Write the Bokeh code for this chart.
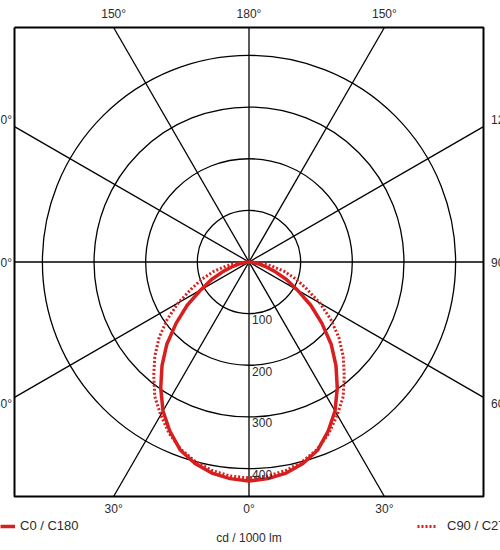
import numpy as np
from bokeh.plotting import figure
from bokeh.models import Range1d, Legend, LegendItem
from bokeh.core.properties import value
from bokeh.embed import file_html
from bokeh.resources import INLINE

# ---------------- data ----------------
gamma = [0, 5, 10, 15, 20, 25, 30, 35, 40, 45, 50, 55, 60, 65, 70, 75, 80, 85, 90]
c0_c180 = [424, 421, 415, 404, 388, 362, 333, 298, 262, 225, 184, 146, 108, 80, 53, 32, 16, 6, 0]
c90_c270 = [418, 416, 410, 400, 386, 366, 342, 318, 287, 258, 227, 193, 158, 123, 97, 71, 45, 22, 0]
ring_values = [100, 200, 300, 400]
ring_labels = ["100", "200", "300", "400"]
ray_angles = [0, 30, 60, 90, 120, 150]
top_labels = ["150°", "180°", "150°"]
bottom_labels = ["30°", "0°", "30°"]
side_labels = ["120°", "90°", "60°"]
series_names = ["C0 / C180", "C90 / C270"]
unit_label = "cd / 1000 lm"

# ---------------- layout constants ----------------
W, H = 500, 550
S = 0.5165             # px per cd/klm
CX, CY = 248.5, 261.5  # pole position on canvas (px)
B = 234.5 / S          # half size of the square frame (data units)
RED = "#d81e1e"
FONT = value("Liberation Sans")
TXT = "#2b2b2b"

p = figure(width=W, height=H, output_backend="svg", toolbar_location=None,
           x_range=Range1d(-CX / S, (W - CX) / S),
           y_range=Range1d(-(H - CY) / S, CY / S),
           x_axis_type=None, y_axis_type=None, title_location=None,
           min_border=0)
p.grid.visible = False
p.outline_line_color = None
p.background_fill_color = "white"
p.border_fill_color = "white"

# rings
p.circle(x=[0] * len(ring_values), y=[0] * len(ring_values), radius=ring_values,
         fill_color=None, line_color="black", line_width=1.3)

# rays clipped to the frame
xs, ys = [], []
for a in ray_angles:
    t = np.radians(a)
    dx, dy = np.sin(t), np.cos(t)
    L = min(B / abs(dx) if abs(dx) > 1e-9 else 1e9, B / abs(dy) if abs(dy) > 1e-9 else 1e9)
    xs.append([-L * dx, L * dx])
    ys.append([-L * dy, L * dy])
p.multi_line(xs=xs, ys=ys, line_color="black", line_width=1.3)

# frame
p.multi_line(xs=[[-B, B, B, -B, -B]], ys=[[B, B, -B, -B, B]], line_color="black", line_width=2)


def polar_curve(vals):
    g = np.radians(np.array(gamma, dtype=float))
    v = np.array(vals, dtype=float)
    xr, yr = v * np.sin(g), -v * np.cos(g)
    x = np.concatenate([-xr[::-1], xr[1:]])
    y = np.concatenate([yr[::-1], yr[1:]])
    return x, y


x1, y1 = polar_curve(c90_c270)
r_dot = p.line(x1, y1, line_color=RED, line_width=3, line_dash="2 2")
x0, y0 = polar_curve(c0_c180)
r_sol = p.line(x0, y0, line_color=RED, line_width=3.5)

# ring value labels
p.text(x=[6] * len(ring_values), y=[-(v + 3) for v in ring_values], text=ring_labels,
       text_font=FONT, text_font_size="12px", text_color=TXT,
       text_align="left", text_baseline="top")

# angle labels
hx = B * np.tan(np.radians(30))
p.text(x=[-hx, 0, hx], y=[480] * 3, text=top_labels, text_font=FONT, text_font_size="12px",
       text_color=TXT, text_align="center", text_baseline="middle")
p.text(x=[-hx, 0, hx], y=[-479] * 3, text=bottom_labels, text_font=FONT, text_font_size="12px",
       text_color=TXT, text_align="center", text_baseline="middle")
p.text(x=[-459] * 3, y=[275, -2, -275], text=side_labels, text_font=FONT, text_font_size="12px",
       text_color=TXT, text_align="right", text_baseline="middle")
p.text(x=[468.5] * 3, y=[275, -2, -275], text=side_labels, text_font=FONT, text_font_size="12px",
       text_color=TXT, text_align="left", text_baseline="middle")

# unit label
p.text(x=[0], y=[-534], text=[unit_label], text_font=FONT, text_font_size="12px",
       text_color=TXT, text_align="center", text_baseline="middle")

# legends
common = dict(border_line_color=None, background_fill_alpha=0, padding=0, margin=0,
              spacing=0, glyph_height=14, label_height=14,
              label_text_font="Liberation Sans", label_text_font_size="13px",
              label_text_color=TXT)
leg1 = Legend(items=[LegendItem(label=series_names[0], renderers=[r_sol])],
              location=(0, 17), glyph_width=15, label_standoff=5, **common)
leg2 = Legend(items=[LegendItem(label=series_names[1], renderers=[r_dot])],
              location=(417, 17), glyph_width=20, label_standoff=10, **common)
p.add_layout(leg1)
p.add_layout(leg2)

open("out.html", "w").write(file_html(p, INLINE))
